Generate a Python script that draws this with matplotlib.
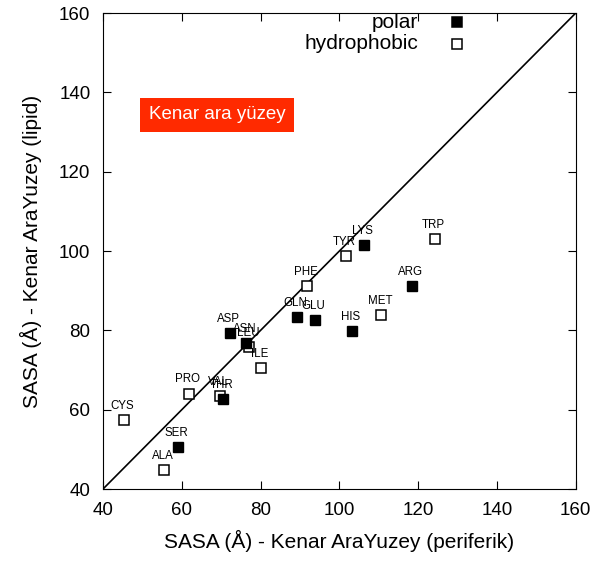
import matplotlib
matplotlib.use("Agg")
import matplotlib.pyplot as plt

plt.rcParams['font.family'] = ['Liberation Sans', 'DejaVu Sans']

# polar residues
polar_names = ["SER", "THR", "ASP", "ASN", "GLN", "GLU", "LYS", "HIS", "ARG"]
polar_x = [59.0, 70.5, 72.2, 76.3, 89.2, 93.8, 106.2, 103.2, 118.4]
polar_y = [50.6, 62.7, 79.3, 76.8, 83.4, 82.6, 101.5, 79.8, 91.2]

# hydrophobic residues
hyd_names = ["CYS", "ALA", "PRO", "VAL", "LEU", "ILE", "PHE", "TYR", "MET", "TRP"]
hyd_x = [45.3, 55.5, 61.8, 69.7, 77.1, 80.1, 91.8, 101.7, 110.6, 124.3]
hyd_y = [57.4, 44.8, 64.0, 63.4, 75.8, 70.5, 91.2, 98.7, 83.9, 103.0]

ticks = [40, 60, 80, 100, 120, 140, 160]

fig = plt.figure(figsize=(6.08, 5.63), dpi=100)
ax = fig.add_axes([0.1694, 0.1314, 0.7776, 0.8455])

ax.plot([40, 160], [40, 160], color='black', lw=1.2)
ax.plot(hyd_x, hyd_y, 's', ms=7, mfc='white', mec='black', mew=1.1, ls='none')
ax.plot(polar_x, polar_y, 's', ms=7, mfc='black', mec='black', ls='none')

for n, x, y in zip(polar_names + hyd_names, polar_x + hyd_x, polar_y + hyd_y):
    ax.annotate(n, (x, y), xytext=(-1, 6), textcoords='offset points',
                ha='center', va='bottom', fontsize=8.3)

ax.set_xlim(40, 160)
ax.set_ylim(40, 160)
ax.set_xticks(ticks)
ax.set_yticks(ticks)
ax.tick_params(direction='in', top=True, right=True, labelsize=13.5,
               length=6, pad=9)
ax.set_xlabel("SASA (Å) - Kenar AraYuzey (periferik)", fontsize=15, labelpad=8)
ax.set_ylabel("SASA (Å) - Kenar AraYuzey (lipid)", fontsize=15, labelpad=12)

ax.text(0.097, 0.786, "Kenar ara yüzey", transform=ax.transAxes, fontsize=13.5,
        color='white', ha='left', va='center',
        bbox=dict(boxstyle='square,pad=0.45', fc='#ff2a00', ec='none'))

# legend
legend_labels = ["polar", "hydrophobic"]
legend_fill = ['black', 'white']
for i, (lab, fc) in enumerate(zip(legend_labels, legend_fill)):
    yy = 0.981 - 0.046 * i
    ax.text(0.666, yy, lab, transform=ax.transAxes, fontsize=15,
            ha='right', va='center')
    ax.plot([0.748], [yy], 's', ms=7, mfc=fc, mec='black', mew=1.1,
            transform=ax.transAxes, clip_on=False)

fig.savefig("out.png", dpi=100)
